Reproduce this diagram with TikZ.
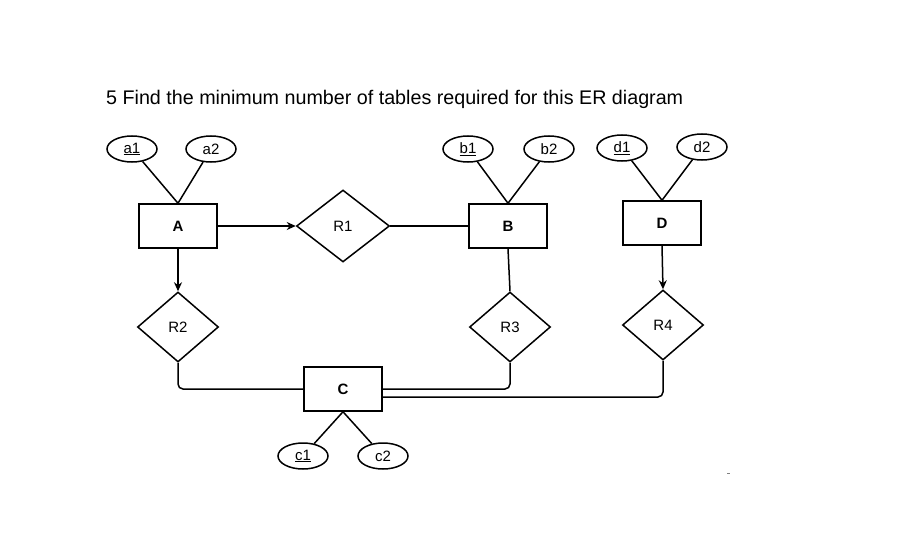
\documentclass[tikz,border=0pt]{standalone}
\usepackage{fontspec}
\setmainfont{Liberation Sans}
\usetikzlibrary{shapes.geometric,arrows.meta}
\newcommand{\lblfont}{\fontsize{15}{18}\selectfont}
\begin{document}
\begin{tikzpicture}[x=1pt,y=-1pt,
  line/.style={line width=1.5pt},
  entity/.style={draw,line width=1.5pt,minimum width=78pt,minimum height=44pt,inner sep=0pt,font=\lblfont\bfseries},
  attr/.style={draw,ellipse,line width=1.5pt,minimum width=50pt,minimum height=26pt,inner sep=0pt,font=\lblfont},
  rel/.style={draw,diamond,line width=1.5pt,minimum width=81pt,minimum height=70pt,inner sep=0pt,font=\lblfont},
  arr/.style={line width=1.5pt,-{Stealth[length=9pt,width=8pt]}},
  conn/.style={line width=1.5pt,rounded corners=5pt}]
\path[use as bounding box,fill=white] (0,0) rectangle (901,548);
\node[anchor=west,font=\fontsize{19.7}{24}\selectfont,inner sep=0pt] (title) at (106,99) {5 Find the minimum number of tables required for this ER diagram};

\node[entity] (A) at (178,226) {A};
\node[entity] (B) at (508,226) {B};
\node[entity] (D) at (662,223) {D};
\node[entity] (C) at (343,389) {C};

\node[attr] (a1) at (132,149) {\underline{a1}};
\node[attr] (a2) at (211,149) {a2};
\node[attr] (b1) at (468,149) {\underline{b1}};
\node[attr] (b2) at (549,149) {b2};
\node[attr] (d1) at (622,148) {\underline{d1}};
\node[attr] (d2) at (702,147) {d2};
\node[attr] (c1) at (303,456) {\underline{c1}};
\node[attr] (c2) at (383,456) {c2};

\node[rel,minimum width=93pt,minimum height=72pt] (R1) at (343,226) {R1};
\node[rel] (R2) at (178,327) {R2};
\node[rel] (R3) at (510,327) {R3};
\node[rel] (R4) at (663,325) {R4};

\draw[line] (a1) -- (A.north);
\draw[line] (a2) -- (A.north);
\draw[line] (b1) -- (B.north);
\draw[line] (b2) -- (B.north);
\draw[line] (d1) -- (D.north);
\draw[line] (d2) -- (D.north);
\draw[line] (c1) -- (C.south);
\draw[line] (c2) -- (C.south);

\draw[arr] (A.east) -- (R1.west);
\draw[line] (R1.east) -- (B.west);
\draw[arr] (A.south) -- (R2.north);
\draw[line] (B.south) -- (R3.north);
\draw[arr] (D.south) -- (R4.north);

\coordinate (Ce2) at ([yshift=-8pt]C.east);
\draw[conn] (R2.south) |- (C.west);
\draw[conn] (R3.south) |- (C.east);
\draw[conn] (R4.south) |- (Ce2);

\fill[gray] (727,472.5) rectangle (730,474);
\end{tikzpicture}
\end{document}
